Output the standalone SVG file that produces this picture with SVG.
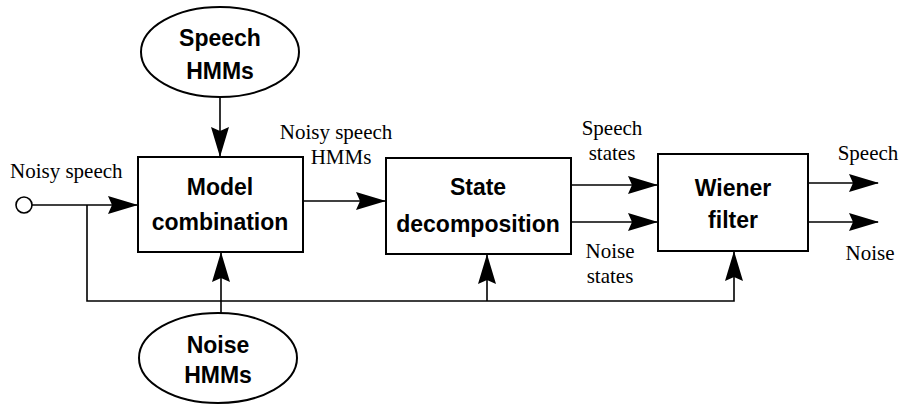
<svg xmlns="http://www.w3.org/2000/svg" width="901" height="404" viewBox="0 0 901 404">
  <style>
    .node { fill: #fff; stroke: #000; stroke-width: 2; }
    .bold { font-family: "Liberation Sans", Arial, sans-serif; font-weight: bold; font-size: 23px; text-anchor: middle; fill: #000; }
    .lbl { font-family: "Liberation Serif", "Times New Roman", serif; font-size: 21px; fill: #000; }
    .mid { text-anchor: middle; }
    .wire { fill: none; stroke: #000; stroke-width: 1.6; }
  </style>
  <defs>
    <marker id="head" viewBox="0 0 30 18" refX="29" refY="9" markerWidth="30" markerHeight="18" markerUnits="userSpaceOnUse" orient="auto">
      <path d="M0,0 L30,9 L0,18 L4,9 Z" fill="#000"/>
    </marker>
  </defs>

  <rect width="901" height="404" fill="#fff"/>

  <!-- connectors -->
  <g id="connectors">
    <circle cx="24" cy="205" r="8" fill="#fff" stroke="#000" stroke-width="1.6"/>
    <line class="wire" x1="32" y1="205" x2="137" y2="205" marker-end="url(#head)"/>
    <polyline class="wire" points="87,205 87,301 734,301 734,252" marker-end="url(#head)"/>
    <line class="wire" x1="487" y1="301" x2="487" y2="255" marker-end="url(#head)"/>
    <line class="wire" x1="220" y1="97" x2="220" y2="156" marker-end="url(#head)"/>
    <line class="wire" x1="221" y1="313" x2="221" y2="253" marker-end="url(#head)"/>
    <line class="wire" x1="303" y1="201" x2="385" y2="201" marker-end="url(#head)"/>
    <line class="wire" x1="572" y1="185" x2="657" y2="185" marker-end="url(#head)"/>
    <line class="wire" x1="572" y1="222" x2="657" y2="222" marker-end="url(#head)"/>
    <line class="wire" x1="808" y1="183" x2="878" y2="183" marker-end="url(#head)"/>
    <line class="wire" x1="808" y1="222" x2="878" y2="222" marker-end="url(#head)"/>

    <text class="lbl" x="10" y="178">Noisy speech</text>
    <text class="lbl mid" x="336" y="139">Noisy speech</text>
    <text class="lbl mid" x="341" y="164">HMMs</text>
    <text class="lbl mid" x="612" y="135">Speech</text>
    <text class="lbl mid" x="612" y="160">states</text>
    <text class="lbl mid" x="610" y="258">Noise</text>
    <text class="lbl mid" x="610" y="283">states</text>
    <text class="lbl mid" x="868" y="160">Speech</text>
    <text class="lbl mid" x="870" y="260">Noise</text>
  </g>

  <g id="speech-hmms">
    <ellipse class="node" cx="220" cy="52" rx="79" ry="45"/>
    <text class="bold" x="220" y="46">Speech</text>
    <text class="bold" x="220" y="79">HMMs</text>
  </g>

  <g id="noise-hmms">
    <ellipse class="node" cx="218" cy="358" rx="79" ry="45"/>
    <text class="bold" x="218" y="353">Noise</text>
    <text class="bold" x="218" y="383">HMMs</text>
  </g>

  <g id="model-combination">
    <rect class="node" x="138" y="157" width="165" height="95"/>
    <text class="bold" x="220" y="195">Model</text>
    <text class="bold" x="220" y="230">combination</text>
  </g>

  <g id="state-decomposition">
    <rect class="node" x="386" y="158" width="185" height="96"/>
    <text class="bold" x="478" y="195">State</text>
    <text class="bold" x="478" y="232">decomposition</text>
  </g>

  <g id="wiener-filter">
    <rect class="node" x="658" y="154" width="150" height="97"/>
    <text class="bold" x="733" y="196">Wiener</text>
    <text class="bold" x="733" y="228">filter</text>
  </g>
</svg>
